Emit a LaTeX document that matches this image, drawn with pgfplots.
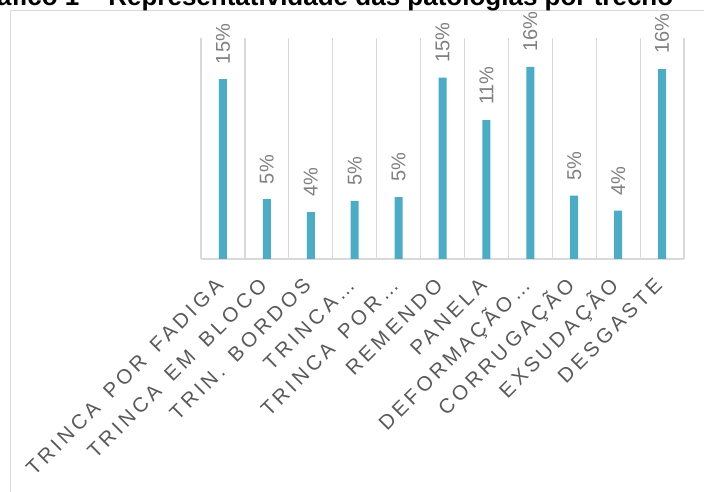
\documentclass[border=0pt]{standalone}
\usepackage{fontspec}
\setmainfont{Liberation Sans}
\newfontfamily\tickfont[LetterSpace=18,WordSpace=1.5]{Liberation Sans}
\usepackage{pgfplots}
\pgfplotsset{compat=1.18}
\definecolor{barc}{HTML}{4BACC6}
\definecolor{gridc}{HTML}{D9D9D9}
\definecolor{labc}{HTML}{808080}
\definecolor{tickc}{HTML}{595959}
\begin{document}
\begin{tikzpicture}[x=1bp,y=1bp]
\useasboundingbox (0,0) rectangle (704,492);
\clip (0,0) rectangle (704,492);
\draw[gridc, line width=1.3bp] (10.5,-20) -- (10.5,481.7) -- (730,481.7);
\node[anchor=base, inner sep=0pt, font=\bfseries\fontsize{26bp}{30bp}\selectfont] at (320,486.5) {Gráfico 1 – Representatividade das patologias por trecho};
\begin{axis}[
  at={(201bp,233bp)}, anchor=south west,
  width=483bp, height=221bp, scale only axis,
  xmin=-0.5, xmax=10.5, ymin=0, ymax=18.16,
  axis x line*=bottom, hide y axis,
  x axis line style={gridc, line width=1.5bp, -},
  xtick={0,...,10},
  xticklabels={TRINCA POR FADIGA, TRINCA EM BLOCO, TRIN. BORDOS, TRINCA…, TRINCA POR…, REMENDO, PANELA, DEFORMAÇÃO…, CORRUGAÇÃO, EXSUDAÇÃO, DESGASTE},
  minor xtick={-0.5,0.5,...,10.5},
  xminorgrids=true,
  minor grid style={gridc, line width=1.2bp},
  major tick length=0pt, minor tick length=0pt,
  xticklabel style={font=\tickfont\fontsize{20.5bp}{24bp}\selectfont, text=tickc, xshift=1.5bp, yshift=-28bp, rotate=45, anchor=base east, inner sep=0pt},
  ybar, bar width=8bp,
  nodes near coords={\pgfmathprintnumber[fixed,precision=0,assume math mode=true]{\pgfplotspointmeta}\%},
  nodes near coords align=horizontal,
  nodes near coords style={font=\fontsize{20bp}{24bp}\selectfont, text=labc, rotate=90, anchor=west, inner xsep=15bp, inner ysep=0pt},
  clip=false,
]
\addplot[fill=barc, draw=none] coordinates {
  (0,14.77) (1,4.91) (2,3.86) (3,4.77) (4,5.09) (5,14.90) (6,11.42) (7,15.78) (8,5.20) (9,3.97) (10,15.61)
};
\end{axis}
\end{tikzpicture}
\end{document}
